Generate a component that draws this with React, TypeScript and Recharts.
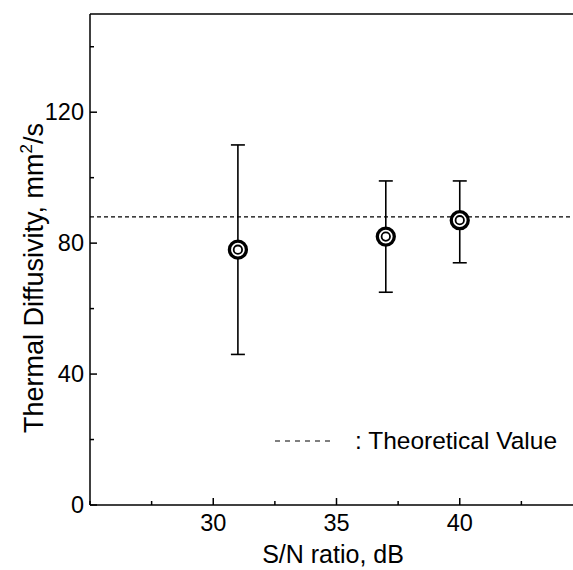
import { ScatterChart, Scatter, XAxis, YAxis, ErrorBar, ReferenceLine, Legend, Label } from "recharts";

const snRatio = [31, 37, 40];
const diffusivity = [78, 82, 87];
const lowerBound = [46, 65, 74];
const upperBound = [110, 99, 99];
const theoreticalValue = 88;

const xTicks = [25, 27.5, 30, 32.5, 35, 37.5, 40, 42.5, 45];
const xLabelled = [30, 35, 40];
const yTicks = [0, 20, 40, 60, 80, 100, 120, 140];
const yLabelled = [0, 40, 80, 120];

const FONT = '"Liberation Sans", Arial, sans-serif';
const INK = "#000";

const data = snRatio.map((x, i) => ({
  x,
  y: diffusivity[i],
  err: [diffusivity[i] - lowerBound[i], upperBound[i] - diffusivity[i]],
}));

// ticks point inwards, long ones carry a label
function BottomTick({ x, y, payload }: any) {
  const major = xLabelled.includes(payload.value);
  return (
    <g>
      <line x1={x} y1={y} x2={x} y2={y - (major ? 7 : 4)} stroke={INK} strokeWidth={1.5} />
      {major && (
        <text x={x} y={y + 26} textAnchor="middle" fontSize={23.5} fontFamily={FONT} fill={INK}>
          {payload.value}
        </text>
      )}
    </g>
  );
}

function TopTick({ x, y, payload }: any) {
  const major = xLabelled.includes(payload.value);
  return <line x1={x} y1={y} x2={x} y2={y + (major ? 7 : 4)} stroke={INK} strokeWidth={1.5} />;
}

function LeftTick({ x, y, payload }: any) {
  const major = yLabelled.includes(payload.value);
  return (
    <g>
      <line x1={x} y1={y} x2={x + (major ? 7 : 4)} y2={y} stroke={INK} strokeWidth={1.5} />
      {major && (
        <text x={x - 6} y={y + 8} textAnchor="end" fontSize={23.5} fontFamily={FONT} fill={INK}>
          {payload.value}
        </text>
      )}
    </g>
  );
}

function Marker({ cx, cy }: any) {
  return (
    <g>
      <circle cx={cx} cy={cy} r={8.5} fill="#fff" stroke={INK} strokeWidth={3.3} />
      <circle cx={cx} cy={cy} r={4.2} fill="#fff" stroke={INK} strokeWidth={1.8} />
    </g>
  );
}

function XTitle() {
  return (
    <text x={333} y={563} textAnchor="middle" fontSize={25} fontFamily={FONT} fill={INK}>
      S/N ratio, dB
    </text>
  );
}

function YTitle() {
  const cx = 33;
  const cy = 278;
  return (
    <text
      x={cx}
      y={cy}
      dy={9.5}
      transform={`rotate(-90 ${cx} ${cy})`}
      textAnchor="middle"
      fontSize={27}
      fontFamily={FONT}
      fill={INK}
    >
      Thermal Diffusivity, mm
      <tspan fontSize={17} dy={-11}>2</tspan>
      <tspan dy={11}>/s</tspan>
    </text>
  );
}

function TheoryLegend() {
  return (
    <div style={{ display: "flex", alignItems: "center", fontFamily: FONT, fontSize: 24.5, color: INK, whiteSpace: "nowrap" }}>
      <svg width={57} height={4}>
        <line x1={0} y1={2} x2={57} y2={2} stroke={INK} strokeWidth={1.2} strokeDasharray="5 5" />
      </svg>
      <span style={{ marginLeft: 23 }}>: Theoretical Value</span>
    </div>
  );
}

export default function App() {
  return (
    <div style={{ position: "absolute", left: 0, top: 0, width: 573, height: 570, overflow: "hidden", background: "#fff" }}>
      <ScatterChart width={600} height={570} margin={{ top: 4, right: 17, bottom: 25, left: 30 }}>
        <XAxis
          type="number"
          dataKey="x"
          domain={[25, 45]}
          ticks={xTicks}
          interval={0}
          height={40}
          tickSize={0}
          tickMargin={0}
          tick={<BottomTick />}
          tickLine={false}
          axisLine={{ stroke: INK, strokeWidth: 1.5 }}
          allowDataOverflow
        >
          <Label content={<XTitle />} />
        </XAxis>
        <XAxis
          xAxisId="top"
          orientation="top"
          type="number"
          domain={[25, 45]}
          ticks={xTicks}
          interval={0}
          height={10}
          tickSize={0}
          tickMargin={0}
          tick={<TopTick />}
          tickLine={false}
          axisLine={{ stroke: INK, strokeWidth: 1.5 }}
          allowDataOverflow
        />
        <YAxis
          type="number"
          dataKey="y"
          domain={[0, 150]}
          ticks={yTicks}
          interval={0}
          width={60}
          tickSize={0}
          tickMargin={0}
          tick={<LeftTick />}
          tickLine={false}
          axisLine={{ stroke: INK, strokeWidth: 1.5 }}
          allowDataOverflow
        >
          <Label content={<YTitle />} />
        </YAxis>
        <ReferenceLine y={theoreticalValue} stroke={INK} strokeWidth={1.2} strokeDasharray="4 3" />
        <Scatter data={data} shape={<Marker />} isAnimationActive={false}>
          <ErrorBar dataKey="err" direction="y" width={7} stroke={INK} strokeWidth={1.6} isAnimationActive={false} />
        </Scatter>
        <Legend
          layout="vertical"
          align="center"
          verticalAlign="middle"
          wrapperStyle={{ left: 275, top: 427, width: 295, height: 30 }}
          content={<TheoryLegend />}
        />
      </ScatterChart>
    </div>
  );
}
